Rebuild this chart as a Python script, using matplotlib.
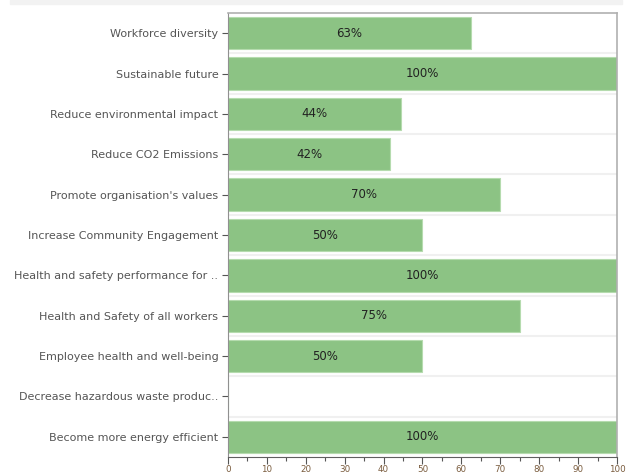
import numpy as np
import matplotlib
matplotlib.use("Agg")
import matplotlib.pyplot as plt
from matplotlib.ticker import MultipleLocator

categories = [
    "Workforce diversity",
    "Sustainable future",
    "Reduce environmental impact",
    "Reduce CO2 Emissions",
    "Promote organisation's values",
    "Increase Community Engagement",
    "Health and safety performance for ..",
    "Health and Safety of all workers",
    "Employee health and well-being",
    "Decrease hazardous waste produc..",
    "Become more energy efficient",
]
values = [62.5, 100, 44.4, 41.7, 70, 50, 100, 75, 50, 0, 100]
labels = ["63%", "100%", "44%", "42%", "70%", "50%", "100%", "75%", "50%", "", "100%"]

plt.rcParams["font.family"] = ["DejaVu Sans"]

fig = plt.figure(figsize=(6.32, 4.74), dpi=100)
# faint strip at the very top
fig.patches.append(plt.Rectangle((10 / 632, 1 - 4 / 474), 612 / 632, 4 / 474,
                                 transform=fig.transFigure, color="#f2f2f2", zorder=0))
ax = fig.add_axes([228 / 632, 17 / 474, 389 / 632, 444 / 474])

y = np.arange(len(categories))
ax.barh(y, values, height=0.8, color="#8cc384", edgecolor="#b5dbae", linewidth=0.8, zorder=2)
for yi, v, lab in zip(y, values, labels):
    if lab:
        ax.text(v / 2, yi, lab, ha="center", va="center", fontsize=8.5, color="#222222", zorder=3)

# separators between rows
for b in np.arange(0.5, len(categories) - 0.5, 1):
    ax.axhline(b, color="#f0f0f0", linewidth=1.5, zorder=1)

ax.set_ylim(len(categories) - 0.5, -0.5)
ax.set_xlim(0, 100)
ax.set_yticks(y)
ax.set_yticklabels(categories, fontsize=8, color="#555555")
ax.xaxis.set_major_locator(MultipleLocator(10))
ax.xaxis.set_minor_locator(MultipleLocator(5))
ax.tick_params(axis="x", which="major", length=5, width=0.8, color="#555555",
               labelsize=6.3, labelcolor="#7a5c3e", pad=0.5)
ax.tick_params(axis="x", which="minor", length=3, width=0.8, color="#555555")
ax.tick_params(axis="y", length=4, width=0.8, color="#555555", pad=3)

for side in ["top", "right"]:
    ax.spines[side].set_color("#b0b0b0")
    ax.spines[side].set_linewidth(1.2)
ax.spines["left"].set_color("#909090")
ax.spines["bottom"].set_color("#606060")

fig.savefig("out.png", dpi=100)
